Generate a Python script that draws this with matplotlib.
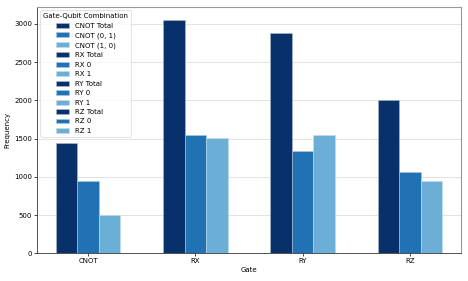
import matplotlib
matplotlib.use("Agg")
import matplotlib.pyplot as plt
import numpy as np

gates = ["CNOT", "RX", "RY", "RZ"]
totals = [1444, 3055, 2880, 2003]
sub0 = [940, 1553, 1335, 1061]
sub1 = [500, 1505, 1544, 940]
sub_labels = [("(0, 1)", "(1, 0)"), ("0", "1"), ("0", "1"), ("0", "1")]
colors = ["#08306b", "#2171b5", "#6baed6"]

plt.rcParams['font.family'] = ['DejaVu Sans']
fig = plt.figure(figsize=(4.68, 2.81), dpi=100)
ax = fig.add_axes([0.079, 0.098, 0.906, 0.877])

w = 0.2
x = np.arange(len(gates))
for i, g in enumerate(gates):
    ax.bar(x[i] - w, totals[i], w, color=colors[0], edgecolor="#b0bccc", linewidth=0.4,
           label=f"{g} Total", zorder=3)
    ax.bar(x[i], sub0[i], w, color=colors[1], edgecolor="#b0c8dc", linewidth=0.4,
           label=f"{g} {sub_labels[i][0]}", zorder=3)
    ax.bar(x[i] + w, sub1[i], w, color=colors[2], edgecolor="#c8dcec", linewidth=0.4,
           label=f"{g} {sub_labels[i][1]}", zorder=3)

ax.set_xlim(-0.477, 3.477)
ax.set_ylim(0, 3219)
ax.set_xticks(x)
ax.set_xticklabels(gates, fontsize=5)
ax.set_yticks([0, 500, 1000, 1500, 2000, 2500, 3000])
ax.tick_params(axis='y', labelsize=5, length=2, width=0.5, pad=1.5)
ax.tick_params(axis='x', labelsize=5, length=2, width=0.5, pad=1.5)
ax.yaxis.grid(True, color="#dddddd", linewidth=0.6, zorder=0)
ax.set_axisbelow(True)
ax.set_xlabel("Gate", fontsize=5, labelpad=2)
ax.set_ylabel("Frequency", fontsize=5, labelpad=3)
for s in ["left", "bottom"]:
    ax.spines[s].set_color("#333333")
    ax.spines[s].set_linewidth(0.6)
for s in ["top", "right"]:
    ax.spines[s].set_color("#999999")
    ax.spines[s].set_linewidth(0.8)

leg = ax.legend(title="Gate-Qubit Combination", fontsize=5, title_fontsize=5,
                loc="upper left", frameon=True, handlelength=2.0, handleheight=0.7,
                labelspacing=0.5, borderpad=0.4, fancybox=True)
leg.get_frame().set_linewidth(0.5)

fig.savefig("out.png", dpi=100)
